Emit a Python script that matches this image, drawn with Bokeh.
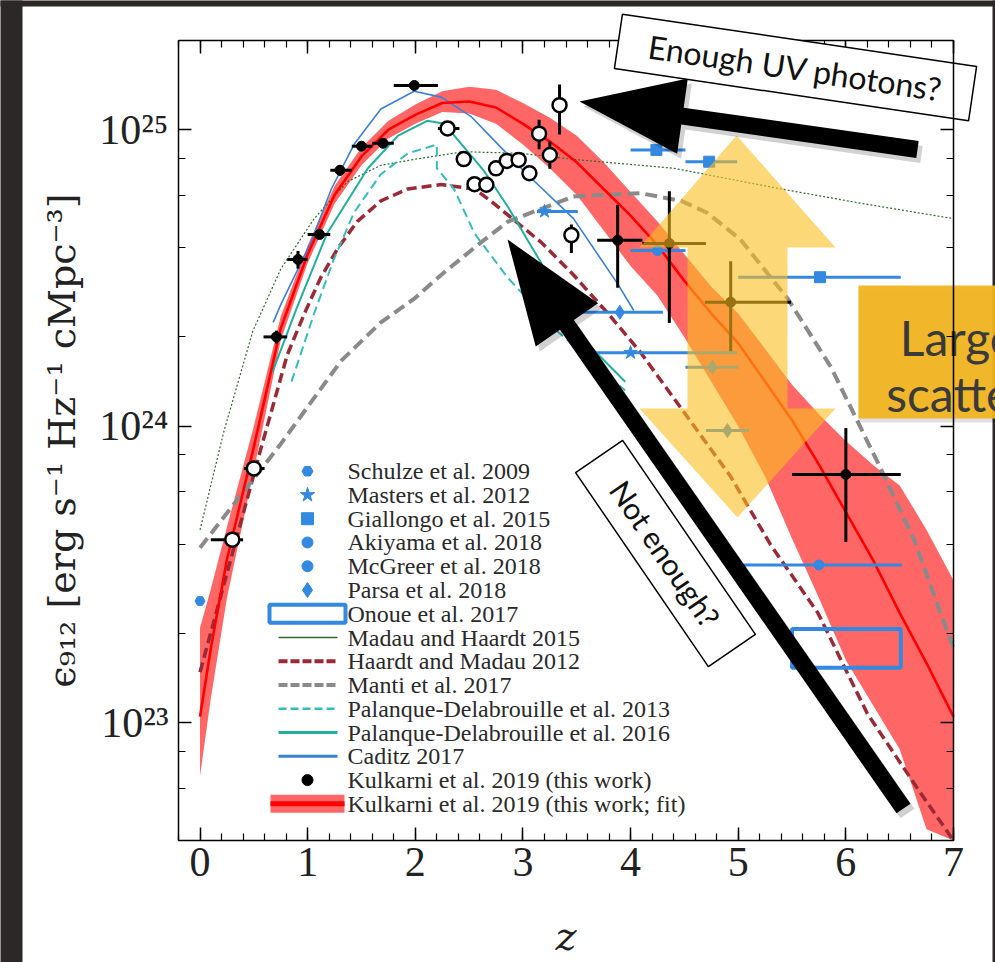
import math
from bokeh.plotting import figure
from bokeh.models import (Range1d, LinearAxis, LogAxis, SingleIntervalTicker, LogTicker,
                          CustomJSTickFormatter)
from bokeh.core.properties import value
from bokeh.embed import file_html
from bokeh.resources import INLINE

# ---------------------------------------------------------------- data
# Kulkarni et al. 2019 (this work), filled points
kul_z = [0.71, 0.91, 1.11, 1.30, 1.50, 1.70, 1.99, 3.88, 4.36, 4.93, 6.00]
kul_v = [2.0e24, 3.65e24, 4.43e24, 7.3e24, 8.8e24, 9.0e24, 1.41e25, 4.24e24, 4.13e24, 2.62e24, 6.87e23]
kul_zlo = [0.59, 0.81, 1.00, 1.21, 1.41, 1.60, 1.80, 3.69, 4.11, 4.69, 5.50]
kul_zhi = [0.81, 1.00, 1.21, 1.41, 1.60, 1.80, 2.21, 4.11, 4.70, 5.49, 6.51]
kul_vlo = [1.9e24, 3.4e24, 4.3e24, 7.0e24, 8.6e24, 8.8e24, 1.38e25, 2.93e24, 2.23e24, 1.79e24, 4.07e23]
kul_vhi = [2.1e24, 3.9e24, 4.6e24, 7.6e24, 9.0e24, 9.2e24, 1.44e25, 5.58e24, 6.2e24, 3.6e24, 9.85e23]

# open points
opn_z = [0.30, 0.50, 2.30, 2.45, 2.55, 2.66, 2.75, 2.85, 2.96, 3.06, 3.15, 3.25, 3.34, 3.45]
opn_v = [4.14e23, 7.2e23, 1.01e25, 7.96e24, 6.55e24, 6.52e24, 7.41e24, 7.85e24, 7.91e24,
         7.13e24, 9.7e24, 8.22e24, 1.21e25, 4.41e24]
opn_zlo = [0.10, 0.41, 2.21, 2.45, 2.55, 2.66, 2.75, 2.85, 2.96, 3.06, 3.15, 3.25, 3.34, 3.45]
opn_zhi = [0.40, 0.60, 2.41, 2.45, 2.55, 2.66, 2.75, 2.85, 2.96, 3.06, 3.15, 3.25, 3.34, 3.45]
opn_vlo = [4.14e23, 7.2e23, 1.01e25, 7.96e24, 6.55e24, 6.52e24, 7.41e24, 7.85e24, 7.91e24,
           7.13e24, 8.6e24, 7.38e24, 9.64e24, 3.84e24]
opn_vhi = [4.14e23, 7.2e23, 1.01e25, 7.96e24, 6.55e24, 6.52e24, 7.41e24, 7.85e24, 7.91e24,
           7.13e24, 1.08e25, 9.12e24, 1.42e25, 4.79e24]

# literature points
schulze_z, schulze_v = [0.0], [2.57e23]
masters_z, masters_v = [3.20, 4.00], [5.3e24, 1.77e24]
masters_zlo, masters_zhi = [3.13, 3.68], [3.51, 4.99]
giallongo_z, giallongo_v = [4.24, 4.73, 5.76], [8.55e24, 7.8e24, 3.18e24]
giallongo_zlo, giallongo_zhi = [4.00, 4.51, 5.00], [4.51, 4.99, 6.51]
akiyama_z, akiyama_v = [4.25], [3.91e24]
akiyama_zlo, akiyama_zhi = [4.00], [4.51]
mcgreer_z, mcgreer_v = [5.75], [3.40e23]
mcgreer_zlo, mcgreer_zhi = [5.04], [6.52]
parsa_z, parsa_v = [3.90, 4.76, 4.90], [2.42e24, 1.58e24, 9.66e23]
parsa_zlo, parsa_zhi = [3.54, 4.51, 4.70], [4.30, 5.00, 5.10]
onoue_z = [5.50, 6.51]
onoue_v = [1.53e23, 2.07e23]

# model curves (log10 of emissivity)
mh15_z = [0.0, 0.22, 0.49, 0.75, 1.06, 1.37, 1.68, 1.99, 2.45, 3.0, 3.47, 4.4, 5.4, 6.17, 7.0]
mh15_log = [23.65, 23.98, 24.32, 24.53, 24.70, 24.825, 24.88, 24.90, 24.926, 24.92, 24.90,
            24.87, 24.80, 24.75, 24.70]

hm12_z = [0.0, 0.57, 0.81, 0.97, 1.12, 1.28, 1.46, 1.68, 1.93, 2.24, 2.55, 2.70, 3.17, 3.47,
          3.79, 4.09, 4.47, 4.93, 5.30, 5.74, 6.2, 6.67, 7.0]
hm12_log = [23.17, 23.93, 24.24, 24.38, 24.50, 24.60, 24.69, 24.76, 24.80, 24.815, 24.80,
            24.76, 24.62, 24.51, 24.38, 24.25, 24.06, 23.83, 23.60, 23.37, 23.03, 22.775, 22.60]

manti_z = [0.0, 0.75, 1.31, 1.68, 1.99, 2.24, 2.61, 2.86, 3.47, 4.09, 4.47, 4.71, 5.02, 5.46,
           5.86, 6.32, 6.63, 7.0]
manti_log = [23.59, 23.94, 24.22, 24.35, 24.43, 24.51, 24.62, 24.69, 24.775, 24.786, 24.76,
             24.72, 24.63, 24.43, 24.20, 23.86, 23.62, 23.25]

pd13_z = [0.85, 1.06, 1.24, 1.43, 1.68, 1.93, 2.2, 2.2, 2.36, 2.55, 2.86, 3.32, 3.95]
pd13_log = [24.15, 24.38, 24.56, 24.72, 24.85, 24.92, 24.95, 24.87, 24.80, 24.65, 24.50,
            24.32, 24.12]

pd16_z = [0.67, 0.9, 1.18, 1.56, 1.84, 2.11, 2.27, 2.64, 2.86, 3.17, 3.54, 3.95]
pd16_log = [24.18, 24.40, 24.65, 24.87, 24.98, 25.03, 25.02, 24.86, 24.74, 24.55, 24.30, 24.15]

caditz_z = [0.68, 0.75, 1.03, 1.22, 1.43, 1.68, 1.99, 2.24, 2.52, 3.01, 3.47, 3.88, 4.03]
caditz_log = [24.35, 24.41, 24.62, 24.80, 24.95, 25.07, 25.13, 25.11, 25.044, 24.86, 24.70,
              24.48, 24.39]

# Kulkarni et al. 2019 fit: median and band
fit_z = [0, 0.1, 0.25, 0.5, 0.75, 1.0, 1.25, 1.5, 1.75, 2.0, 2.25, 2.5, 2.75, 3.0, 3.25, 3.5,
         3.75, 4.0, 4.25, 4.5, 4.75, 5.0, 5.25, 5.5, 5.75, 6.0, 6.25, 6.5, 6.75, 7.0]
fit_log_mid = [23.02, 23.25, 23.55, 23.93, 24.33, 24.58, 24.78, 24.91, 25.00, 25.05, 25.09,
               25.095, 25.075, 25.02, 24.96, 24.89, 24.80, 24.71, 24.61, 24.49, 24.38, 24.28,
               24.15, 24.02, 23.87, 23.71, 23.55, 23.37, 23.20, 23.02]
fit_log_hi = [23.32, 23.45, 23.66, 24.00, 24.37, 24.61, 24.81, 24.94, 25.03, 25.085, 25.13,
              25.145, 25.135, 25.09, 25.04, 24.98, 24.89, 24.79, 24.69, 24.58, 24.47, 24.38,
              24.26, 24.14, 24.04, 23.95, 23.87, 23.80, 23.65, 23.48]
fit_log_lo = [22.82, 23.08, 23.42, 23.85, 24.29, 24.55, 24.75, 24.88, 24.97, 25.02, 25.06,
              25.055, 25.02, 24.95, 24.87, 24.78, 24.66, 24.54, 24.44, 24.30, 24.15, 24.00,
              23.83, 23.62, 23.42, 23.21, 23.06, 22.91, 22.64, 22.45]

legend_labels = ["Schulze et al. 2009", "Masters et al. 2012", "Giallongo et al. 2015",
                 "Akiyama et al. 2018", "McGreer et al. 2018", "Parsa et al. 2018",
                 "Onoue et al. 2017", "Madau and Haardt 2015", "Haardt and Madau 2012",
                 "Manti et al. 2017", "Palanque-Delabrouille et al. 2013",
                 "Palanque-Delabrouille et al. 2016", "Caditz 2017",
                 "Kulkarni et al. 2019 (this work)", "Kulkarni et al. 2019 (this work; fit)"]

# ---------------------------------------------------------------- page geometry
W, H = 995, 962                              # page size
FL, FR, FT, FB = 178.0, 953.0, 40.0, 840.0   # axes box on the page
X0, X1 = -0.2, 7.0                           # z limits of the axes box
Y0, Y1 = 4e22, 2e25                          # emissivity limits of the axes box
LY0, LY1 = math.log10(Y0), math.log10(Y1)
PPX = (FR - FL) / (X1 - X0)
PPD = (FB - FT) / (LY1 - LY0)


def to_data(px, py):
    x = X0 + (px - FL) / PPX
    ly = LY1 - (py - FT) / PPD
    return x, 10.0 ** ly


def dx(px):
    return to_data(px, 0)[0]


def dy(py):
    return to_data(0, py)[1]


def dex(a):
    return [10.0 ** v for v in a]


def inside(vals):
    # keep curves within the lower edge of the axes box
    return [max(v, Y0) for v in vals]


SERIF = "DejaVu Serif"
TSERIF = "Liberation Serif"
SANS = "Lato"
BLUE = "#3388e0"
RED = "#ff0000"
C_MH15 = "#2d6a2d"
C_HM12 = "#9a2a35"
C_MANTI = "#8a8a8a"
C_PD13 = "#33bdbb"
C_PD16 = "#20b09e"
C_CAD = "#3a80d8"
DARK = "#2c2828"

# the frame spans the whole page; the four axes are pinned to the box edges
p = figure(width=W, height=H, x_range=Range1d(dx(0), dx(W)), y_range=Range1d(dy(H), dy(0)),
           y_axis_type="log", output_backend="svg", toolbar_location=None,
           min_border_left=0, min_border_right=0, min_border_top=0, min_border_bottom=0,
           background_fill_color="white", border_fill_color="white",
           outline_line_color=None)
p.grid.visible = False

xb = p.xaxis[0]
yl = p.yaxis[0]
xt = LinearAxis()
yr = LogAxis()
p.add_layout(xt, "above")
p.add_layout(yr, "right")

xb.fixed_location = Y0
xt.fixed_location = Y1
yl.fixed_location = X0
yr.fixed_location = X1
for ax in (xb, xt):
    ax.ticker = SingleIntervalTicker(interval=1, num_minor_ticks=5)
    ax.bounds = (X0, X1)
for ax in (yl, yr):
    ax.ticker = LogTicker()
    ax.bounds = (Y0, Y1)
for ax in (xb, xt, yl, yr):
    ax.major_tick_in = 13
    ax.major_tick_out = 0
    ax.minor_tick_in = 7
    ax.minor_tick_out = 0
    ax.major_tick_line_width = 1.5
    ax.minor_tick_line_width = 1.2
    ax.axis_line_width = 1.5
    ax.axis_line_color = "black"
    ax.major_tick_line_color = "black"
    ax.minor_tick_line_color = "black"
    ax.major_label_text_font = TSERIF
    ax.major_label_text_color = "#222222"
for ax in (xt, yr):
    ax.major_label_text_color = None
    ax.major_label_standoff = 0
xt.level = "underlay"

xb.major_label_text_font_size = "42px"
xb.major_label_standoff = 7
xb.axis_label = "z"
xb.axis_label_text_font = SERIF
xb.axis_label_text_font_style = "italic"
xb.axis_label_text_font_size = "40px"
xb.axis_label_text_color = "#222222"
xb.axis_label_standoff = 34

yl.major_label_text_font_size = "42px"
yl.major_label_standoff = 10
yl.formatter = CustomJSTickFormatter(code="""
    const sup = {"0":"\u2070","1":"\u00b9","2":"\u00b2","3":"\u00b3","4":"\u2074",
                 "5":"\u2075","6":"\u2076","7":"\u2077","8":"\u2078","9":"\u2079","-":"\u207b"};
    const e = Math.round(Math.log10(tick));
    return "10" + String(e).split("").map(c => sup[c]).join("");
""")
yl.axis_label = "\u03f5\u2089\u2081\u2082 [erg s\u207b\u00b9 Hz\u207b\u00b9 cMpc\u207b\u00b3]"
yl.axis_label_text_font = SERIF
yl.axis_label_text_font_style = "normal"
yl.axis_label_text_font_size = "38px"
yl.axis_label_text_color = "#222222"
yl.axis_label_standoff = 12

# dark page edges around the white slide panel
p.quad(left=[dx(-5)], right=[dx(22)], bottom=[dy(H + 5)], top=[dy(-5)],
       fill_color=DARK, line_alpha=0)
p.quad(left=[dx(-5)], right=[dx(W + 5)], bottom=[dy(6)], top=[dy(-5)],
       fill_color=DARK, line_alpha=0)
p.quad(left=[dx(992)], right=[dx(W + 5)], bottom=[dy(H + 5)], top=[dy(-5)],
       fill_color=DARK, line_alpha=0)

# ---------------------------------------------------------------- model curves
p.varea(x=fit_z, y1=inside(dex(fit_log_lo)), y2=dex(fit_log_hi), fill_color=RED,
        fill_alpha=0.6)
p.line(mh15_z, dex(mh15_log), line_color=C_MH15, line_width=1.2, line_dash="2 2")
p.line(hm12_z, inside(dex(hm12_log)), line_color=C_HM12, line_width=3.5, line_dash="10 5")
p.line(manti_z, dex(manti_log), line_color=C_MANTI, line_width=4, line_dash="12 6")
p.line(pd13_z, dex(pd13_log), line_color=C_PD13, line_width=2, line_dash="9 5")
p.line(pd16_z, dex(pd16_log), line_color=C_PD16, line_width=2)
p.line(caditz_z, dex(caditz_log), line_color=C_CAD, line_width=1.6)
p.line(fit_z, dex(fit_log_mid), line_color=RED, line_width=2.6)


# ---------------------------------------------------------------- literature data
def hbars(z, v, zlo, zhi, color, width=3):
    p.segment(x0=zlo, y0=v, x1=zhi, y1=v, line_color=color, line_width=width)


hbars(masters_z, masters_v, masters_zlo, masters_zhi, BLUE)
hbars(giallongo_z, giallongo_v, giallongo_zlo, giallongo_zhi, BLUE)
hbars(akiyama_z, akiyama_v, akiyama_zlo, akiyama_zhi, BLUE)
hbars(mcgreer_z, mcgreer_v, mcgreer_zlo, mcgreer_zhi, BLUE)
hbars(parsa_z, parsa_v, parsa_zlo, parsa_zhi, BLUE)

MARK = {"schulze": ("hex", 10), "masters": ("star", 14), "giallongo": ("square", 11),
        "akiyama": ("circle", 10), "mcgreer": ("circle", 10), "parsa": ("diamond", 14)}
p.scatter(schulze_z, schulze_v, marker=MARK["schulze"][0], size=MARK["schulze"][1], color=BLUE)
p.scatter(masters_z, masters_v, marker=MARK["masters"][0], size=MARK["masters"][1], color=BLUE)
p.scatter(giallongo_z, giallongo_v, marker=MARK["giallongo"][0], size=MARK["giallongo"][1],
          color=BLUE)
p.scatter(akiyama_z, akiyama_v, marker=MARK["akiyama"][0], size=MARK["akiyama"][1], color=BLUE)
p.scatter(mcgreer_z, mcgreer_v, marker=MARK["mcgreer"][0], size=MARK["mcgreer"][1], color=BLUE)
p.scatter(parsa_z, parsa_v, marker=MARK["parsa"][0], size=MARK["parsa"][1], color=BLUE)
p.quad(left=[onoue_z[0]], right=[onoue_z[1]], bottom=[onoue_v[0]], top=[onoue_v[1]],
       fill_color=None, line_color=BLUE, line_width=4)

# open points with error bars
p.segment(x0=opn_zlo, y0=opn_v, x1=opn_zhi, y1=opn_v, line_color="black", line_width=3)
p.segment(x0=opn_z, y0=opn_vlo, x1=opn_z, y1=opn_vhi, line_color="black", line_width=3)
p.scatter(opn_z, opn_v, marker="circle", size=14, fill_color="white", line_color="black",
          line_width=2.5)

# Kulkarni points
p.segment(x0=kul_zlo, y0=kul_v, x1=kul_zhi, y1=kul_v, line_color="black", line_width=3)
p.segment(x0=kul_z, y0=kul_vlo, x1=kul_z, y1=kul_vhi, line_color="black", line_width=3)
p.scatter(kul_z, kul_v, marker="circle", size=10, color="black")

# ---------------------------------------------------------------- legend (keys + labels)
KEY_X, KEY_L, KEY_R, TEXT_X = 307, 278, 337, 347
ROW0, PITCH = 470.7, 23.76
rows = [ROW0 + i * PITCH for i in range(len(legend_labels))]
kx, kl, kr = dx(KEY_X), dx(KEY_L), dx(KEY_R)

for i, key in enumerate(["schulze", "masters", "giallongo", "akiyama", "mcgreer", "parsa"]):
    m, s = MARK[key]
    p.scatter([kx], [dy(rows[i])], marker=m, size=s + 1, color=BLUE)
p.quad(left=[dx(269)], right=[dx(345)], top=[dy(rows[6] - 9)], bottom=[dy(rows[6] + 9)],
       fill_color=None, line_color=BLUE, line_width=4)
line_keys = [(7, C_MH15, 1.5, "solid"), (8, C_HM12, 4, "9 3"), (9, C_MANTI, 4, "9 3"),
             (10, C_PD13, 2.5, "8 4"), (11, C_PD16, 3, "solid"), (12, C_CAD, 3, "solid")]
for i, c, w, dash in line_keys:
    p.segment(x0=[kl], y0=[dy(rows[i])], x1=[kr], y1=[dy(rows[i])], line_color=c,
              line_width=w, line_dash=dash)
p.scatter([kx], [dy(rows[13])], marker="circle", size=11, color="black")
p.quad(left=[dx(270)], right=[dx(344)], top=[dy(rows[14] - 9)], bottom=[dy(rows[14] + 9)],
       fill_color=RED, fill_alpha=0.6, line_alpha=0)
p.segment(x0=[dx(270)], y0=[dy(rows[14])], x1=[dx(344)], y1=[dy(rows[14])], line_color=RED,
          line_width=5)
p.text(x=[dx(TEXT_X)] * len(rows), y=[dy(r) for r in rows], text=legend_labels,
       text_font=value(TSERIF), text_font_size=value("24px"), text_color="#2a2a2a",
       text_align="left", text_baseline="middle")


# ---------------------------------------------------------------- slide overlays
def poly(points, **kw):
    xs, ys = zip(*[to_data(*pt) for pt in points])
    p.patch(x=list(xs), y=list(ys), **kw)


def arrow_points(tip, tail, shaft, head_len, head_half):
    tx, ty = tip
    ex, ey = tail
    L = math.hypot(ex - tx, ey - ty)
    ux, uy = (ex - tx) / L, (ey - ty) / L
    nx, ny = -uy, ux
    bx, by = tx + head_len * ux, ty + head_len * uy
    s = shaft / 2.0
    return [(tx, ty), (bx + head_half * nx, by + head_half * ny), (bx + s * nx, by + s * ny),
            (ex + s * nx, ey + s * ny), (ex - s * nx, ey - s * ny), (bx - s * nx, by - s * ny),
            (bx - head_half * nx, by - head_half * ny)]


def rect_points(cx, cy, length, width, angle_deg):
    a = math.radians(angle_deg)
    ux, uy = math.cos(a), math.sin(a)
    nx, ny = -uy, ux
    hl, hw = length / 2.0, width / 2.0
    return [(cx - hl * ux - hw * nx, cy - hl * uy - hw * ny),
            (cx + hl * ux - hw * nx, cy + hl * uy - hw * ny),
            (cx + hl * ux + hw * nx, cy + hl * uy + hw * ny),
            (cx - hl * ux + hw * nx, cy - hl * uy + hw * ny)]


def shifted(points, ox, oy):
    return [(x + ox, y + oy) for x, y in points]


def label(px, py, text, size, angle_deg=0.0, font=SANS, color="#111111",
          align="center", baseline="middle"):
    x, y = to_data(px, py)
    p.text(x=[x], y=[y], text=[text], angle=-math.radians(angle_deg),
           text_font=value(font), text_font_size=value(size), text_color=color,
           text_align=align, text_baseline=baseline)


# semi-transparent double arrow
yellow = [(736, 135), (835, 247), (787, 247), (787, 408), (835, 408), (737, 517),
          (639, 408), (687, 408), (687, 247), (639, 247)]
poly(yellow, fill_color="#fabe1e", fill_alpha=0.6, line_alpha=0)

# black arrows with soft shadow
arrow_up = arrow_points((579, 101), (917, 149), 17, 104, 38)
arrow_diag = arrow_points((507, 239), (903, 808), 17, 104, 38)
for pts in (arrow_up, arrow_diag):
    poly(shifted(pts, 4, 5), fill_color="#000000", fill_alpha=0.18, line_alpha=0)
    poly(pts, fill_color="#000000", fill_alpha=1.0, line_alpha=0)

# text boxes
box_uv = rect_points(795, 67, 358, 55, 8.4)
poly(box_uv, fill_color="white", fill_alpha=1.0, line_color="black", line_width=1.5)
label(795, 67, "Enough UV photons?", "32px", angle_deg=8.4)

box_ne = rect_points(665, 553, 235, 57, 55.6)
poly(box_ne, fill_color="white", fill_alpha=1.0, line_color="black", line_width=1.5)
label(665, 553, "Not enough?", "30px", angle_deg=55.6)

scatter_box = [(858, 285), (1060, 285), (1060, 418), (858, 418)]
poly(shifted(scatter_box, 0, 4), fill_color="#000000", fill_alpha=0.12, line_alpha=0)
poly(scatter_box, fill_color="#f0b41e", fill_alpha=0.94, line_alpha=0)
label(957, 337, "Large", "48px", color="#3a3a3a", baseline="alphabetic")
label(957, 393, "scatter", "48px", color="#3a3a3a", baseline="alphabetic")

open("out.html", "w").write(file_html(p, INLINE))
